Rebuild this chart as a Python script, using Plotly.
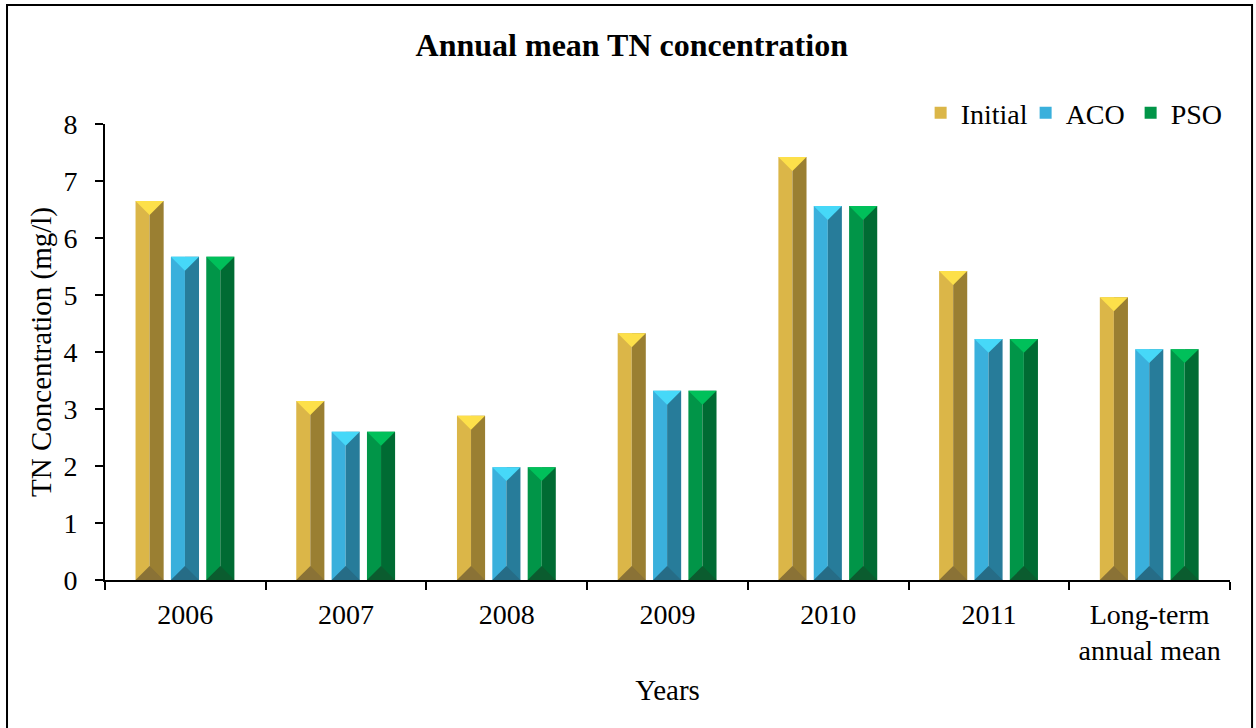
import plotly.graph_objects as go

categories = ["2006", "2007", "2008", "2009", "2010", "2011", "Long-term<br>annual mean"]
initial = [6.65, 3.14, 2.88, 4.33, 7.42, 5.42, 4.96]
aco = [5.67, 2.60, 1.98, 3.32, 6.56, 4.23, 4.05]
pso = [5.67, 2.60, 1.98, 3.32, 6.56, 4.23, 4.05]
series_names = ["Initial", "ACO", "PSO"]

series = [initial, aco, pso]
# light, dark, top, bottom
palettes = [
    ("#dbb648", "#9a7f32", "#fde04a", "#8a7236"),
    ("#3ab0dc", "#277c9a", "#46d8f8", "#266c86"),
    ("#019548", "#006b33", "#00c05a", "#0b5c2f"),
]
offsets = [-0.31, -0.09, 0.13]
bw = 0.175
hw = bw / 2
bevel = 0.245

FONT = "Liberation Serif"
xs = list(range(len(categories)))

fig = go.Figure()
shapes = []
for s, (vals, name, pal, off) in enumerate(zip(series, series_names, palettes, offsets)):
    fig.add_trace(go.Bar(x=xs, y=vals, name=name, offset=off, width=hw,
                         marker=dict(color=pal[0], line=dict(width=0)),
                         showlegend=True, legendgroup=name))
    fig.add_trace(go.Bar(x=xs, y=vals, name=name, offset=off + hw, width=hw,
                         marker=dict(color=pal[1], line=dict(width=0)),
                         showlegend=False, legendgroup=name, hoverinfo="skip"))
    for i, v in enumerate(vals):
        xl = i + off
        xr = xl + bw
        xc = xl + hw
        shapes.append(dict(type="path", xref="x", yref="y", layer="above",
                           path=f"M {xl},{v} L {xr},{v} L {xc},{v - bevel} Z",
                           fillcolor=pal[2], line=dict(width=0)))
        shapes.append(dict(type="path", xref="x", yref="y", layer="above",
                           path=f"M {xl},0 L {xr},0 L {xc},{bevel} Z",
                           fillcolor=pal[3], line=dict(width=0)))

# outer frame
shapes.append(dict(type="rect", xref="paper", yref="paper",
                   x0=-0.0871, x1=1.0196, y0=-0.4, y1=1.261,
                   line=dict(color="black", width=2), fillcolor="rgba(0,0,0,0)", layer="below"))

fig.update_layout(
    width=1256, height=728,
    margin=dict(l=105, r=26, t=124, b=148),
    paper_bgcolor="white", plot_bgcolor="white",
    barmode="overlay",
    font=dict(family=FONT, color="black", size=28),
    title=dict(text="<b>Annual mean TN concentration</b>", x=0.503, xanchor="center",
               y=0.938, yanchor="middle", font=dict(family=FONT, size=32, color="black")),
    shapes=shapes,
    showlegend=True,
    legend=dict(orientation="h", x=1.005, xanchor="right", y=1.024, yanchor="middle",
                font=dict(family=FONT, size=28, color="black"),
                bgcolor="rgba(0,0,0,0)", itemwidth=30, traceorder="normal",
                entrywidth=60, entrywidthmode="pixels"),
    xaxis=dict(range=[-0.5, 6.5], tickmode="array", tickvals=xs, ticktext=categories,
               ticks="", showline=True, linecolor="black", linewidth=2, showgrid=False,
               zeroline=False, tickfont=dict(family=FONT, size=28, color="black"),
               ticklabelstandoff=8,
               minor=dict(tickmode="array", tickvals=[k - 0.5 for k in range(len(categories) + 1)],
                          ticks="outside", ticklen=8, tickcolor="black", tickwidth=2, showgrid=False),
               title=dict(text="Years", font=dict(family=FONT, size=29, color="black"), standoff=15)),
    yaxis=dict(range=[0, 8], dtick=1, tick0=0, ticks="outside", ticklen=8, tickwidth=2,
               tickcolor="black", showline=True, linecolor="black", linewidth=2,
               showgrid=False, zeroline=False, tickfont=dict(family=FONT, size=28, color="black"),
               ticklabelstandoff=12,
               title=dict(text="TN Concentration (mg/l)", font=dict(family=FONT, size=29, color="black"),
                          standoff=3)),
)

fig.write_html("out.html", config={"displayModeBar": False},
               post_script="document.body.style.margin='0';document.body.style.overflow='hidden';")
